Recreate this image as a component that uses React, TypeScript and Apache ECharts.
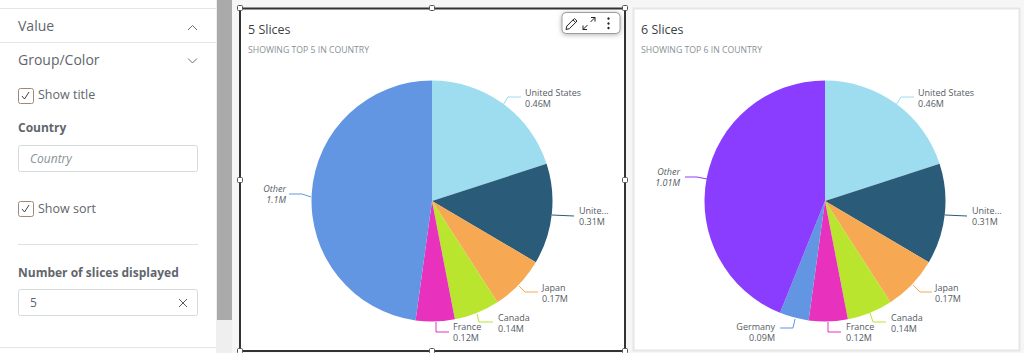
import React, { useEffect, useRef } from "react";
import * as echarts from "echarts";

const FONT = '"Open Sans", "Noto Sans", sans-serif';

const categories5 = ["United States", "United Kingdom", "Japan", "Canada", "France", "Other"];
const values5 = [0.46, 0.31, 0.17, 0.14, 0.12, 1.1];
const shown5 = ["United States\n0.46M", "Unite...\n0.31M", "Japan\n0.17M", "Canada\n0.14M", "France\n0.12M", "Other\n1.1M"];
const colors5 = ["#9edcf0", "#2a5c7a", "#f6a952", "#b9e52f", "#e831bd", "#6295e2"];

const categories6 = ["United States", "United Kingdom", "Japan", "Canada", "France", "Germany", "Other"];
const values6 = [0.46, 0.31, 0.17, 0.14, 0.12, 0.09, 1.01];
const shown6 = ["United States\n0.46M", "Unite...\n0.31M", "Japan\n0.17M", "Canada\n0.14M", "France\n0.12M", "Germany\n0.09M", "Other\n1.01M"];
const colors6 = ["#9edcf0", "#2a5c7a", "#f6a952", "#b9e52f", "#e831bd", "#6295e2", "#8a3dff"];

type Place = { x: number; y: number; align: "left" | "right"; line: number[][] };

const places5: Record<string, Place> = {
  "United States": { x: 525, y: 97.5, align: "left", line: [[503, 105], [508, 97], [521, 97]] },
  "United Kingdom": { x: 579, y: 215.5, align: "left", line: [[552, 215], [574, 216]] },
  Japan: { x: 542, y: 292.5, align: "left", line: [[519, 286], [525, 292], [538, 292]] },
  Canada: { x: 498, y: 322.5, align: "left", line: [[477, 314], [479, 322], [493, 322]] },
  France: { x: 453, y: 332, align: "left", line: [[436, 322], [436, 332], [449, 332]] },
  Other: { x: 286, y: 193.5, align: "right", line: [[289, 194], [302, 194], [311, 197]] },
};
const places6: Record<string, Place> = {
  "United States": { x: 918, y: 97.5, align: "left", line: [[896, 105], [901, 97], [914, 97]] },
  "United Kingdom": { x: 972, y: 215.5, align: "left", line: [[945, 215], [967, 216]] },
  Japan: { x: 935, y: 292.5, align: "left", line: [[913, 285], [920, 292], [932, 292]] },
  Canada: { x: 891, y: 322.5, align: "left", line: [[870, 313], [873, 322], [886, 322]] },
  France: { x: 846, y: 332, align: "left", line: [[828, 322], [828, 332], [841, 332]] },
  Germany: { x: 775, y: 332, align: "right", line: [[795, 319], [793, 328], [780, 328]] },
  Other: { x: 680, y: 177, align: "right", line: [[685, 177], [697, 177], [707, 179]] },
};

const PENCIL = "M0 12 L0.8 8.6 L8.4 1 L11 3.6 L3.4 11.2 Z M7 2.4 L9.6 5";
const EXPAND = "M0 12 L4.5 7.5 M0 12 L0 8 M0 12 L4 12 M12 0 L7.5 4.5 M12 0 L8 0 M12 0 L12 4";
const CHEVRON_UP = "M0 5 L4.5 0.5 L9 5";
const CHEVRON_DOWN = "M0 0.5 L4.5 5 L9 0.5";
const CROSS = "M0 0 L8 8 M8 0 L0 8";
const TICK = "M0 4 L2.5 7 L7 0";
["pencil", "expand", "chevup", "chevdown", "cross", "tick"].forEach((n, i) => {
  const d = [PENCIL, EXPAND, CHEVRON_UP, CHEVRON_DOWN, CROSS, TICK][i];
  echarts.graphic.registerShape(n, (echarts.graphic as any).extendPath(d, {}));
});

function txt(x: number, y: number, text: string, fontSize: number, fill: string, extra: any = {}) {
  return { type: "text", x, y, silent: true, style: { x: 0, y: 0, text, fontSize, fill, fontFamily: FONT, verticalAlign: "middle", ...extra } };
}
function box(x: number, y: number, w: number, h: number, fill: string, stroke?: string, lineWidth = 1, r = 0) {
  return { type: "rect", shape: { x, y, width: w, height: h, r }, silent: true, style: { fill, stroke: stroke ?? "none", lineWidth } };
}
function hline(x1: number, x2: number, y: number, stroke: string) {
  return box(x1, y, x2 - x1, 1, stroke);
}
function icon(type: string, x: number, y: number, stroke: string, lineWidth = 1) {
  return { type, x, y, silent: true, style: { fill: "none", stroke, lineWidth } };
}
function handle(x: number, y: number) {
  return box(x - 2.5, y - 2.5, 5, 5, "#ffffff", "#555555", 1, 1);
}

function sidebar() {
  const ink = "#5f666d";
  return [
    box(0, 0, 217, 353, "#ffffff"),
    box(216, 0, 1, 353, "#eeeeee"),
    box(217, 0, 15, 320, "#aaaaaa"),
    box(217, 320, 15, 33, "#efefef"),
    hline(0, 216, 8, "#e6e6e6"),
    hline(0, 216, 42, "#e6e6e6"),
    hline(0, 216, 347, "#e6e6e6"),
    txt(18, 25.5, "Value", 14, ink),
    txt(18, 59.5, "Group/Color", 14, ink),
    icon("chevup", 188, 25, "#687078"),
    icon("chevdown", 188, 58, "#687078"),
    box(18.5, 88.5, 15, 15, "#ffffff", "#a08878", 1, 2),
    icon("tick", 22, 92, "#444444"),
    txt(38, 94.5, "Show title", 12.5, ink),
    txt(18, 127, "Country", 12, ink, { fontWeight: "bold" }),
    box(18.5, 145.5, 179, 26, "#ffffff", "#d5dbdb", 1, 2),
    txt(30, 158, "Country", 12, "#879196", { fontStyle: "italic" }),
    box(18.5, 201.5, 15, 15, "#ffffff", "#a08878", 1, 2),
    icon("tick", 22, 205, "#444444"),
    txt(38, 208, "Show sort", 12.5, ink),
    hline(18, 198, 244, "#e0e0e0"),
    txt(18, 272, "Number of slices displayed", 12, ink, { fontWeight: "bold" }),
    box(18.5, 289.5, 179, 26, "#ffffff", "#d5dbdb", 1, 2),
    txt(30, 302.5, "5", 12, ink),
    icon("cross", 179, 299, "#545b64"),
  ];
}

function panels() {
  const head = "#3a3f45";
  const sub = "#879196";
  return [
    box(240, 8.5, 385, 342.5, "#ffffff", "#333333", 2),
    handle(240, 8), handle(432, 8), handle(625, 8),
    handle(240, 180), handle(625, 180),
    handle(240, 351), handle(432, 351), handle(625, 351),
    txt(248, 29.5, "5 Slices", 12.5, head),
    txt(248, 50, "SHOWING TOP 5 IN COUNTRY", 8.7, sub),
    {
      ...box(562, 12.5, 58, 21, "#ffffff", "#777777", 1, 4),
      style: { fill: "#ffffff", stroke: "#888888", lineWidth: 0.8, shadowBlur: 5, shadowColor: "rgba(0,0,0,0.3)", shadowOffsetY: 1 },
    },
    icon("pencil", 566, 17.5, "#222222"),
    icon("expand", 583, 17.5, "#222222"),
    { type: "circle", shape: { cx: 608.5, cy: 18.5, r: 1.2 }, silent: true, style: { fill: "#222222" } },
    { type: "circle", shape: { cx: 608.5, cy: 23.5, r: 1.2 }, silent: true, style: { fill: "#222222" } },
    { type: "circle", shape: { cx: 608.5, cy: 28, r: 1.2 }, silent: true, style: { fill: "#222222" } },
    box(633.5, 8.5, 386, 342, "#ffffff", "#e6e6e6", 2),
    txt(641, 29.5, "6 Slices", 12.5, head),
    txt(641, 50, "SHOWING TOP 6 IN COUNTRY", 8.7, sub),
  ];
}

function pie(cx: number, cats: string[], vals: number[], shown: string[], cols: string[], places: Record<string, Place>) {
  return {
    type: "pie",
    center: [cx, 201],
    radius: [0, 120.5],
    startAngle: 90,
    clockwise: true,
    avoidLabelOverlap: false,
    silent: true,
    itemStyle: { borderWidth: 0 },
    labelLine: { show: true, lineStyle: { width: 1 } },
    data: cats.map((name, i) => ({
      name,
      value: vals[i],
      itemStyle: { color: cols[i] },
      labelLine: { lineStyle: { color: cols[i] } },
      label: {
        show: true,
        formatter: shown[i],
        fontFamily: FONT,
        fontSize: 9,
        lineHeight: 11,
        color: "#545b64",
        fontStyle: name === "Other" ? "italic" : "normal",
      },
    })),
    labelLayout: (p: any) => {
      const pl = places[cats[p.dataIndex]];
      return { x: pl.x, y: pl.y, align: pl.align, verticalAlign: "middle", labelLinePoints: pl.line };
    },
  };
}

export default function App() {
  const ref = useRef<HTMLDivElement>(null);
  useEffect(() => {
    document.body.style.margin = "0";
    const chart = echarts.init(ref.current!, undefined, { renderer: "svg" });
    chart.setOption({
      animation: false,
      backgroundColor: "#f6f6f6",
      graphic: { elements: [...sidebar(), ...panels()] },
      series: [
        pie(432, categories5, values5, shown5, colors5, places5),
        pie(825, categories6, values6, shown6, colors6, places6),
      ],
    });
    return () => chart.dispose();
  }, []);
  return <div ref={ref} style={{ width: 1024, height: 353 }} />;
}
